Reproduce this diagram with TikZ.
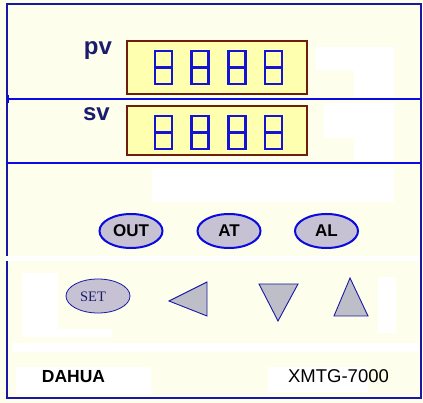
\documentclass[tikz,border=0pt]{standalone}
\usepackage{xcolor}
\usepackage{tikz}
\usetikzlibrary{shapes.geometric}
\usepackage{fontspec}
\setmainfont{Liberation Sans}
\newfontfamily\keyserif{Liberation Serif}

\definecolor{panelbg}{RGB}{254,254,236}
\definecolor{framecol}{RGB}{24,24,168}
\definecolor{rulecol}{RGB}{10,10,225}
\definecolor{lcdfill}{RGB}{255,255,176}
\definecolor{lcdedge}{RGB}{110,30,10}
\definecolor{segcol}{RGB}{20,20,210}
\definecolor{labelcol}{RGB}{28,28,110}
\definecolor{keyfill}{RGB}{198,194,212}
\definecolor{trifill}{RGB}{190,190,200}

\begin{document}
\begin{tikzpicture}[
  x=1pt, y=-1pt,
  frame/.style={draw=framecol, line width=2pt},
  rule/.style={draw=rulecol, line width=2pt},
  lcd/.style={draw=lcdedge, line width=1.2pt, fill=lcdfill, minimum width=180pt, inner sep=0pt},
  digit/.style={draw=segcol, line width=2.4pt, minimum width=17pt, minimum height=33pt, inner sep=0pt},
  tag/.style={text=labelcol, font=\bfseries\fontsize{24}{24}\selectfont, inner sep=0pt, anchor=base},
  button/.style={ellipse, draw=rulecol, line width=2pt, fill=keyfill, minimum width=63pt, minimum height=34pt, inner sep=0pt, font=\bfseries\fontsize{17}{17}\selectfont},
  setkey/.style={ellipse, draw=framecol, line width=0.8pt, fill=keyfill, minimum width=64pt, minimum height=34pt, inner sep=0pt},
  arrowkey/.style={draw=framecol, line width=0.9pt, fill=trifill, line join=miter},
  brand/.style={inner sep=0pt, anchor=base, font=\bfseries\fontsize{17.5}{17.5}\selectfont}
]
\useasboundingbox (0,0) rectangle (423,403);
\fill[panelbg] (0,0) rectangle (423,403);

% white patches on the panel
\fill[white] (316,47) -- (394,47) -- (394,97) -- (354,97) -- (354,70) -- (316,70) -- cycle;
\fill[white] (324,103) -- (394,103) -- (394,161) -- (354,161) -- (354,138) -- (324,138) -- cycle;
\fill[white] (152,168) rectangle (394,202);
\fill[white] (22,273) rectangle (58,337);
\fill[white] (58,329) rectangle (112,337);
\fill[white] (378,277) rectangle (396,333);
\fill[white] (16,367) rectangle (151,394);
\fill[white] (268,367) rectangle (368,392);

% frame and dividers
\draw[frame] (6.5,4.5) rectangle (420.5,398);
\draw[rule] (8,99) -- (420,99);
\draw[rule] (8,95) -- (8,103);
\draw[rule] (6,163) -- (420,163);
\fill[white] (5,256) rectangle (419,261);
\fill[white] (12,343) rectangle (419,352);

% displays
\node[tag] (pv) at (98,55) {pv};
\node[tag] (sv) at (96.5,121) {sv};
\node[lcd, minimum height=53pt] (pvlcd) at (217,67.5) {};
\node[lcd, minimum height=49pt] (svlcd) at (217,130.5) {};
\foreach \i in {1,...,4} {
  \node[digit] (pv\i) at (163.5+36.67*\i-36.67,67.5) {};
  \draw[segcol, line width=2.2pt] (pv\i.west) -- (pv\i.east);
  \node[digit] (sv\i) at (163.5+36.67*\i-36.67,132.5) {};
  \draw[segcol, line width=2.2pt] (sv\i.west) -- (sv\i.east);
}

% function keys
\node[button] (out) at (131,231) {OUT};
\node[button] (at) at (229,231) {AT};
\node[button] (al) at (326.5,231) {AL};

% set and arrow keys
\node[setkey] (set) at (98,296) {};
\node[text=labelcol, font=\keyserif\fontsize{14.5}{14.5}\selectfont, inner sep=0pt] (settext) at (93,297) {SET};
\draw[arrowkey] (169,301) -- (207,282) -- (207,316) -- cycle;
\draw[arrowkey] (259,284) -- (298,284) -- (278,321) -- cycle;
\draw[arrowkey] (350,278) -- (368,316) -- (334,316) -- cycle;

% name plate
\node[brand] (maker) at (73.5,382) {DAHUA};
\node[brand, font=\fontsize{18.5}{18.5}\selectfont] (model) at (338.5,382) {XMTG-7000};
\end{tikzpicture}
\end{document}
